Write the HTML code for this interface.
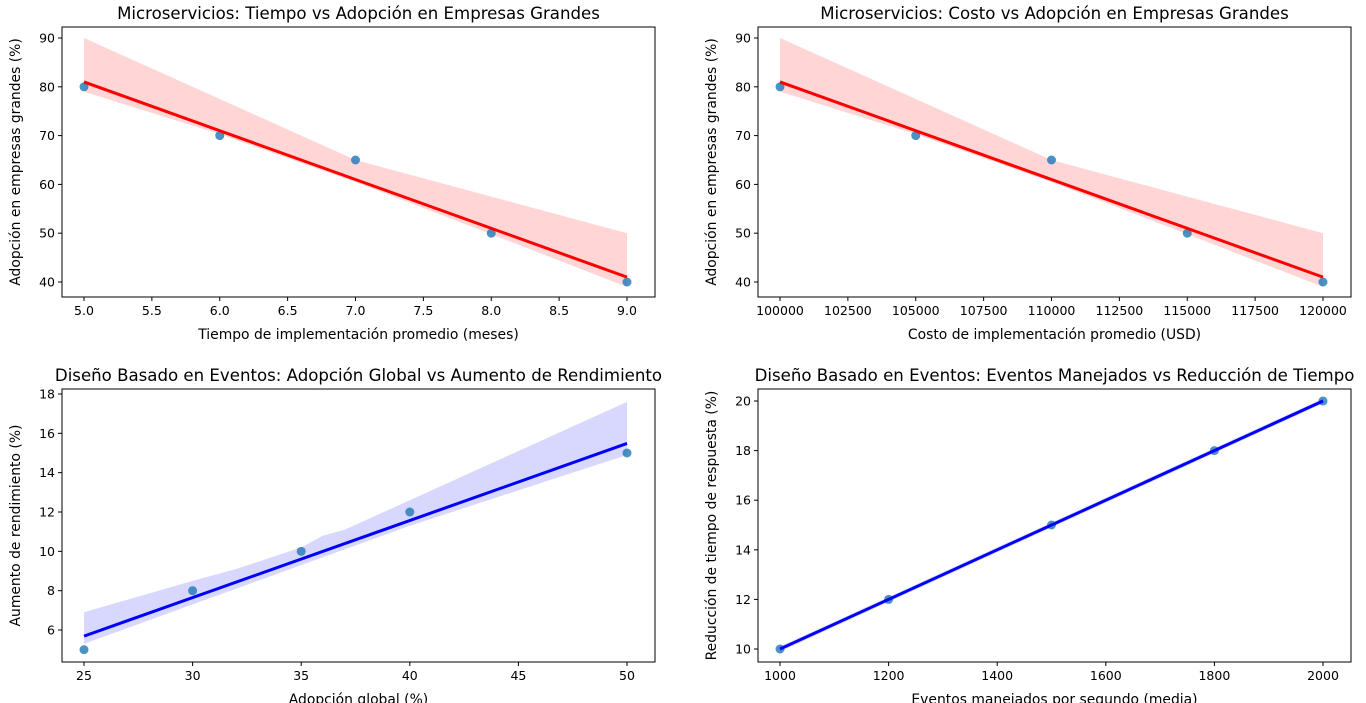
<!DOCTYPE html>
<html><head><meta charset="utf-8">
<style>
body{margin:0;background:#fff;}
svg{display:block;font-family:"DejaVu Sans","Liberation Sans",sans-serif;}
</style></head>
<body>
<svg id="fig" width="1366" height="703" xmlns="http://www.w3.org/2000/svg"></svg>
<script>
// Panel 1 data
const p1X = [5, 6, 7, 8, 9];
const p1Y = [80, 70, 65, 50, 40];
const p1BandX = [5, 6, 7, 8, 9];
const p1BandLo = [79, 70.3, 60.5, 49.8, 39];
const p1BandHi = [90, 77.5, 65, 57.5, 50];
const p1XTicks = [5.0, 5.5, 6.0, 6.5, 7.0, 7.5, 8.0, 8.5, 9.0];
const p1YTicks = [40, 50, 60, 70, 80, 90];
// Panel 2 data
const p2X = [100000, 105000, 110000, 115000, 120000];
const p2Y = [80, 70, 65, 50, 40];
const p2BandX = [100000, 105000, 110000, 115000, 120000];
const p2BandLo = [79, 70.3, 60.5, 49.8, 39];
const p2BandHi = [90, 77.5, 65, 57.5, 50];
const p2XTicks = [100000, 102500, 105000, 107500, 110000, 112500, 115000, 117500, 120000];
const p2YTicks = [40, 50, 60, 70, 80, 90];
// Panel 3 data
const p3X = [25, 30, 35, 40, 50];
const p3Y = [5, 8, 10, 12, 15];
const p3BandX = [25, 30, 32, 35, 36, 37, 40, 50];
const p3BandLo = [5.3, 7.3, 8.1, 9.3, 9.7, 10.1, 11.3, 14.9];
const p3BandHi = [6.9, 8.5, 9.1, 10.2, 10.8, 11.1, 12.6, 17.6];
const p3XTicks = [25, 30, 35, 40, 45, 50];
const p3YTicks = [6, 8, 10, 12, 14, 16, 18];
// Panel 4 data
const p4X = [1000, 1200, 1500, 1800, 2000];
const p4Y = [10, 12, 15, 18, 20];
const p4BandX = [1000, 2000];
const p4BandLo = [9.9, 19.9];
const p4BandHi = [10.1, 20.1];
const p4XTicks = [1000, 1200, 1400, 1600, 1800, 2000];
const p4YTicks = [10, 12, 14, 16, 18, 20];

const NS = "http://www.w3.org/2000/svg";
const fig = document.getElementById('fig');
function mk(tag, attrs, parent, text){
  const e = document.createElementNS(NS, tag);
  for (const k in attrs) e.setAttribute(k, attrs[k]);
  if (text !== undefined) e.textContent = text;
  (parent || fig).appendChild(e);
  return e;
}
function fit(xs, ys){
  const n = xs.length, mx = xs.reduce((a,b)=>a+b)/n, my = ys.reduce((a,b)=>a+b)/n;
  let sxy=0, sxx=0;
  for (let i=0;i<n;i++){ sxy+=(xs[i]-mx)*(ys[i]-my); sxx+=(xs[i]-mx)**2; }
  const b = sxy/sxx; return {b:b, a:my-b*mx};
}
function panel(cfg){
  const g = mk('g', {});
  
  
  const L=cfg.L, R=cfg.R, T=cfg.T, B=cfg.B;
  const sx = v => cfg.x0p + (v - cfg.x0)*(cfg.x1p - cfg.x0p)/(cfg.x1 - cfg.x0);
  const sy = v => cfg.y0p + (v - cfg.y0)*(cfg.y1p - cfg.y0p)/(cfg.y1 - cfg.y0);
  let d = '';
  cfg.bx.forEach((x,i)=>{ d += (i?'L':'M') + sx(x) + ',' + sy(cfg.bhi[i]); });
  for (let i=cfg.bx.length-1;i>=0;i--) d += 'L' + sx(cfg.bx[i]) + ',' + sy(cfg.blo[i]);
  const band = mk('path', {d: d+'Z', fill: cfg.bandColor, stroke:'none'}, g);
  
  
  cfg.xs.forEach((x,i)=>{
    const c = mk('circle', {cx: sx(x), cy: sy(cfg.ys[i]), r: 4.5, fill:'#1f77b4', 'fill-opacity':0.8}, g);
    
    
  });
  const f = fit(cfg.xs, cfg.ys);
  const xa = Math.min(...cfg.xs), xb = Math.max(...cfg.xs);
  const ln = mk('line', {x1: sx(xa), y1: sy(f.a+f.b*xa), x2: sx(xb), y2: sy(f.a+f.b*xb), stroke: cfg.lineColor, 'stroke-width':3}, g);
  
  
  const fr = mk('rect', {x:L, y:T, width:R-L, height:B-T, fill:'none', stroke:'#000', 'stroke-width':1}, g);
  
  
  cfg.xt.forEach(v=>{
    const x = sx(v);
    mk('line', {x1:x, y1:B, x2:x, y2:B+4, stroke:'#000'}, g);
    const t = mk('text', {x:x, y:B+18, 'font-size':12.5, 'text-anchor':'middle'}, g, cfg.xfmt(v));
    
    
  });
  cfg.yt.forEach(v=>{
    const y = sy(v);
    mk('line', {x1:L-4, y1:y, x2:L, y2:y, stroke:'#000'}, g);
    const t = mk('text', {x:L-7, y:y+4.5, 'font-size':12.5, 'text-anchor':'end'}, g, String(v));
    
    
  });
  const ti = mk('text', {x:(L+R)/2, y:T-8, 'font-size':16.6, 'text-anchor':'middle'}, g, cfg.title);
  
  
  const xl = mk('text', {x:(L+R)/2, y:B+42, 'font-size':13.9, 'text-anchor':'middle'}, g, cfg.xlabel);
  
  
  const yx = L-42, yy = (T+B)/2;
  const yl = mk('text', {x:yx, y:yy, 'font-size':13.9, 'text-anchor':'middle', transform:`rotate(-90 ${yx} ${yy})`}, g, cfg.ylabel);
  
  
}
panel({name:'panel-tiempo-adopcion', L:62,R:655,T:27,B:297, x0:5,x0p:84,x1:9,x1p:627, y0:40,y0p:282,y1:90,y1p:38,
  xs:p1X, ys:p1Y, bx:p1BandX, blo:p1BandLo, bhi:p1BandHi, xt:p1XTicks, yt:p1YTicks, xfmt:v=>v.toFixed(1),
  bandColor:'#ffd5d5', lineColor:'#ff0000', title:'Microservicios: Tiempo vs Adopción en Empresas Grandes',
  xlabel:'Tiempo de implementación promedio (meses)', ylabel:'Adopción en empresas grandes (%)'});
panel({name:'panel-costo-adopcion', L:758,R:1351,T:27,B:297, x0:100000,x0p:780,x1:120000,x1p:1323, y0:40,y0p:282,y1:90,y1p:38,
  xs:p2X, ys:p2Y, bx:p2BandX, blo:p2BandLo, bhi:p2BandHi, xt:p2XTicks, yt:p2YTicks, xfmt:v=>String(v),
  bandColor:'#ffd5d5', lineColor:'#ff0000', title:'Microservicios: Costo vs Adopción en Empresas Grandes',
  xlabel:'Costo de implementación promedio (USD)', ylabel:'Adopción en empresas grandes (%)'});
panel({name:'panel-adopcion-rendimiento', L:62,R:655,T:389,B:662, x0:25,x0p:84,x1:50,x1p:627, y0:6,y0p:630,y1:18,y1p:394,
  xs:p3X, ys:p3Y, bx:p3BandX, blo:p3BandLo, bhi:p3BandHi, xt:p3XTicks, yt:p3YTicks, xfmt:v=>String(v),
  bandColor:'#d8d8ff', lineColor:'#0000ff', title:'Diseño Basado en Eventos: Adopción Global vs Aumento de Rendimiento',
  xlabel:'Adopción global (%)', ylabel:'Aumento de rendimiento (%)'});
panel({name:'panel-eventos-reduccion', L:758,R:1351,T:389,B:662, x0:1000,x0p:780,x1:2000,x1p:1323, y0:10,y0p:649,y1:20,y1p:401,
  xs:p4X, ys:p4Y, bx:p4BandX, blo:p4BandLo, bhi:p4BandHi, xt:p4XTicks, yt:p4YTicks, xfmt:v=>String(v),
  bandColor:'#d8d8ff', lineColor:'#0000ff', title:'Diseño Basado en Eventos: Eventos Manejados vs Reducción de Tiempo',
  xlabel:'Eventos manejados por segundo (media)', ylabel:'Reducción de tiempo de respuesta (%)'});
</script>
</body></html>
